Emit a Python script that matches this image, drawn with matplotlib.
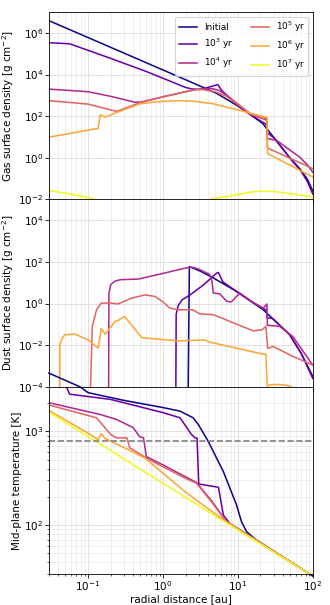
import numpy as np
import matplotlib
matplotlib.use("Agg")
import matplotlib.pyplot as plt
from matplotlib.ticker import LogLocator, NullLocator

# ---------------- data ----------------
labels = ["Initial", r"$10^3$ yr", r"$10^4$ yr", r"$10^5$ yr", r"$10^6$ yr", r"$10^7$ yr"]

# Gas surface density [g cm^-2]
gas_r0 = [0.03, 0.1, 1.0, 1.97, 5.2, 10, 15, 21.5, 30, 40, 49, 70, 85, 100]
gas_s0 = [3.9e6, 6e5, 1.66e4, 5.8e3, 1250, 310, 112, 44, 9.6, 2.6, 1.04, 0.25, 0.09, 0.025]

gas_r1 = [0.03, 0.057, 0.2, 0.6, 1.52, 1.97, 2.4, 3.1, 4.3, 5.4, 6.1, 10, 15, 22, 24, 24.5, 30, 40, 49, 70, 85, 100]
gas_s1 = [3.4e5, 3e5, 6e4, 1.4e4, 3600, 2450, 2050, 1900, 2600, 3300, 1700, 320, 115, 48, 40, 16, 9.5, 2.6, 1.0, 0.22, 0.07, 0.018]

gas_r2 = [0.03, 0.1, 0.2, 0.42, 0.5, 1, 2, 3, 4.5, 5.5, 7, 10, 15, 23, 24.3, 24.6, 33, 50, 67, 85, 100]
gas_s2 = [2000, 1500, 900, 470, 470, 850, 1500, 2000, 2100, 1800, 1050, 380, 120, 70, 65, 8.5, 6.8, 2.3, 1.07, 0.45, 0.2]

gas_r3 = [0.03, 0.1, 0.24, 0.5, 1, 2, 3, 5, 7, 10, 15, 23, 24.4, 24.7, 100]
gas_s3 = [560, 380, 170, 450, 850, 1500, 2000, 1500, 900, 360, 125, 75, 75, 3.0, 0.3]

gas_r4 = [0.03, 0.137, 0.145, 0.17, 0.24, 0.5, 1.0, 1.6, 2.5, 4.6, 10, 23, 24.6, 24.9, 100]
gas_s4 = [9.8, 26, 117, 90, 150, 400, 520, 560, 530, 400, 200, 90, 85, 1.6, 0.12]

gas_r5 = [0.03, 0.06, 0.13, 0.3, 1, 2, 3.9, 8.6, 14, 19.7, 30, 45, 70, 100]
gas_s5 = [0.027, 0.018, 0.0098, 0.005, 0.003, 0.005, 0.0095, 0.0156, 0.022, 0.025, 0.024, 0.02, 0.016, 0.013]

# Dust surface density [g cm^-2]
dust_r0 = [2.12, 2.25, 3.2, 4.7, 9.6, 15, 21.8, 30, 49, 70, 100]
dust_s0 = [1e-8, 60, 35, 17, 3.8, 1.26, 0.5, 0.17, 0.032, 4e-3, 3.1e-4]

dust_r1 = [1.47, 1.5, 1.6, 1.8, 2.3, 3.5, 5.2, 5.5, 6.3, 9.6, 15, 22, 24, 24.5, 28, 30, 49, 70, 100]
dust_s1 = [1e-8, 0.3, 0.8, 1.5, 2.6, 8, 29, 31, 11, 3.8, 1.26, 0.55, 0.5, 0.2, 0.2, 0.17, 0.032, 4e-3, 2.5e-4]

dust_r2 = [0.187, 0.19, 0.2, 0.23, 0.27, 0.47, 1.0, 2.07, 2.5, 3.0, 4.2, 4.5, 4.7, 5.75, 7.1, 8.2, 9.6, 10.6, 15, 21.8, 24.3, 24.8, 36, 54, 100]
dust_s2 = [1e-8, 3, 8, 12, 14, 15, 28, 52, 55, 45, 25, 12, 3.2, 2.9, 1.26, 1.2, 2.2, 3.2, 1.3, 0.6, 0.95, 0.09, 0.08, 0.026, 1.1e-3]

dust_r3 = [0.107, 0.108, 0.114, 0.13, 0.15, 0.206, 0.25, 0.38, 0.575, 0.78, 1.0, 1.24, 1.6, 2.5, 3.1, 4.7, 5.75, 8.6, 16, 21, 23.6, 25, 29.5, 54, 100]
dust_s3 = [1e-8, 1e-4, 0.08, 0.5, 1.05, 1.05, 0.95, 1.8, 2.6, 2.2, 1.2, 0.6, 0.5, 0.5, 0.32, 0.29, 0.22, 0.12, 0.049, 0.055, 0.08, 7e-3, 8.7e-3, 2.9e-3, 1.1e-3]

dust_r4 = [0.0419, 0.042, 0.044, 0.049, 0.067, 0.1, 0.137, 0.15, 0.17, 0.23, 0.25, 0.305, 0.36, 0.52, 1.6, 3.6, 4.2, 21.8, 23.6, 24.6, 27, 35, 45, 52, 56]
dust_s4 = [1e-8, 0.01, 0.018, 0.032, 0.034, 0.018, 0.0072, 0.062, 0.034, 0.14, 0.15, 0.24, 0.12, 0.023, 0.016, 0.0178, 0.014, 3.7e-3, 3.7e-3, 1.1e-4, 1.25e-4, 1.3e-4, 1.15e-4, 1e-4, 5e-5]

# Mid-plane temperature [K]
temp_r0 = [0.03, 0.078, 0.1, 0.3, 1.0, 1.69, 2.53, 2.96, 4.0, 6.4, 9.6, 11.2, 13.1, 17.7, 30, 60, 100]
temp_t0 = [4200, 3000, 2600, 2150, 1800, 1650, 1400, 1190, 790, 373, 164, 108, 85, 69, 52, 37, 28.6]

temp_r1 = [0.03, 0.05, 0.057, 0.2, 1.0, 1.69, 2.4, 2.67, 2.85, 3.0, 5.5, 6.4, 7.8, 17.7, 100]
temp_t1 = [3300, 3150, 2500, 2200, 1590, 1400, 930, 855, 850, 275, 254, 128, 104, 69, 28.6]

temp_r2 = [0.03, 0.145, 0.24, 0.4, 0.49, 0.55, 0.6, 1.0, 2.8, 4.5, 7.1, 17.7, 100]
temp_t2 = [2030, 1520, 1345, 1100, 877, 855, 540, 440, 285, 180, 108, 69, 28.6]

temp_r3 = [0.03, 0.13, 0.2, 0.24, 0.33, 0.36, 0.6, 1.0, 1.97, 2.8, 4.5, 7.1, 17.7, 100]
temp_t3 = [1920, 1400, 930, 855, 855, 670, 520, 420, 318, 280, 175, 108, 69, 28.6]

temp_r4 = [0.03, 0.1, 0.137, 0.15, 0.17, 0.345, 0.575, 1.97, 4.0, 7.1, 12, 100]
temp_t4 = [1680, 960, 820, 950, 840, 640, 520, 228, 150, 108, 83, 28.6]

temp_r5 = [0.03, 0.1, 1.0, 10, 100]
temp_t5 = [1615, 885, 280, 88.5, 28.6]

t_sublim = 800

gas_r = [gas_r0, gas_r1, gas_r2, gas_r3, gas_r4, gas_r5]
gas_s = [gas_s0, gas_s1, gas_s2, gas_s3, gas_s4, gas_s5]
dust_r = [dust_r0, dust_r1, dust_r2, dust_r3, dust_r4]
dust_s = [dust_s0, dust_s1, dust_s2, dust_s3, dust_s4]
temp_r = [temp_r0, temp_r1, temp_r2, temp_r3, temp_r4, temp_r5]
temp_t = [temp_t0, temp_t1, temp_t2, temp_t3, temp_t4, temp_t5]

# ---------------- plot ----------------
plt.rcParams['font.family'] = ['DejaVu Sans']
plt.rcParams['font.size'] = 10

cmap = plt.get_cmap('plasma')
colors = [cmap(i / 5) for i in range(6)]
lw = 1.5

fig, axes = plt.subplots(3, 1, figsize=(4.4, 605 / 75), dpi=75, sharex=True)
fig.subplots_adjust(left=0.148, right=0.948, top=0.980, bottom=0.051, hspace=0)
ax1, ax2, ax3 = axes

for i in range(6):
    ax1.plot(gas_r[i], gas_s[i], color=colors[i], lw=lw, label=labels[i])
for i in range(5):
    ax2.plot(dust_r[i], dust_s[i], color=colors[i], lw=lw)
for i in range(6):
    ax3.plot(temp_r[i], temp_t[i], color=colors[i], lw=lw, clip_on=(i != 0))
ax3.axhline(t_sublim, color='gray', ls='--', lw=1.6)

for ax in axes:
    ax.set_xscale('log')
    ax.set_yscale('log')
    ax.grid(which='major', color='#dcdcdc', lw=0.8)
    ax.grid(which='minor', color='#e9e9e9', lw=0.7)
    ax.set_axisbelow(True)
    ax.tick_params(which='major', length=3.5, pad=1.5)
    ax.tick_params(which='minor', length=2.0, pad=1.5)

ax1.set_xlim(0.03, 100)
ax1.set_ylim(1e-2, 1e7)
ax1.set_yticks([1e-2, 1e0, 1e2, 1e4, 1e6])
ax1.yaxis.set_minor_locator(NullLocator())
ax2.set_ylim(1e-4, 1e5)
ax2.set_yticks([1e-4, 1e-2, 1e0, 1e2, 1e4])
ax2.yaxis.set_minor_locator(NullLocator())
ax3.set_ylim(30, 3000)
ax3.yaxis.set_major_locator(LogLocator(base=10))
ax3.yaxis.set_minor_locator(LogLocator(base=10, subs=np.arange(2, 10)))

ax1.set_ylabel(r"Gas surface density [g cm$^{-2}$]", labelpad=2)
ax2.set_ylabel(r"Dust surface density [g cm$^{-2}$]", labelpad=2)
ax3.set_ylabel("Mid-plane temperature [K]", labelpad=2)
ax3.set_xlabel("radial distance [au]", labelpad=1)

ax1.legend(loc='upper right', ncol=2, fontsize=8.5)

fig.savefig("out.png", dpi=75)
